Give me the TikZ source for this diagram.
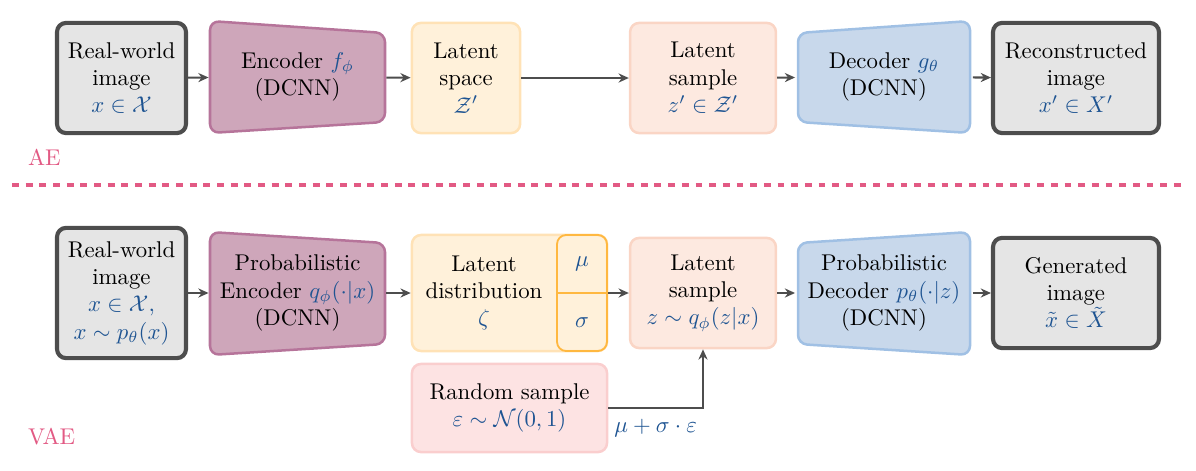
\documentclass[tikz,border=0pt]{standalone}
\usepackage{amsmath,amssymb}
\usepackage{tikz}
\usetikzlibrary{arrows.meta,positioning}
\definecolor{mathblue}{RGB}{30,84,146}
\definecolor{edgegray}{RGB}{77,77,77}
\definecolor{imgfill}{RGB}{229,229,229}
\definecolor{encfill}{RGB}{206,166,186}
\definecolor{encedge}{RGB}{182,116,154}
\definecolor{decfill}{RGB}{200,216,235}
\definecolor{decedge}{RGB}{160,192,228}
\definecolor{latfill}{RGB}{255,241,218}
\definecolor{latedge}{RGB}{255,226,182}
\definecolor{msedge}{RGB}{255,184,64}
\definecolor{sampfill}{RGB}{253,233,224}
\definecolor{sampedge}{RGB}{250,213,197}
\definecolor{randfill}{RGB}{253,227,227}
\definecolor{randedge}{RGB}{250,206,206}
\definecolor{tagpink}{RGB}{226,90,132}
\newcommand{\blu}[1]{\textcolor{mathblue}{$#1$}}

\tikzset{
  imgbox/.style={draw=edgegray,fill=imgfill,line width=1.8pt,rounded corners=4pt,
    align=center,inner sep=0pt},
  latbox/.style={draw=latedge,fill=latfill,line width=1.1pt,rounded corners=4pt,
    align=center,inner sep=0pt},
  sampbox/.style={draw=sampedge,fill=sampfill,line width=1.1pt,rounded corners=4pt,
    align=center,inner sep=0pt},
  randbox/.style={draw=randedge,fill=randfill,line width=1.1pt,rounded corners=4pt,
    align=center,inner sep=0pt},
  msbox/.style={draw=msedge,line width=0.8pt,rounded corners=4pt,inner sep=0pt},
  encshape/.style={draw=encedge,fill=encfill,line width=1.1pt,rounded corners=4pt},
  decshape/.style={draw=decedge,fill=decfill,line width=1.1pt,rounded corners=4pt},
  netlabel/.style={align=center,inner sep=0pt,minimum width=2.73cm,minimum height=1.3cm},
  flow/.style={->,line width=0.9pt,draw=edgegray},
  tag/.style={text=tagpink,anchor=west}
}

\begin{document}
\begin{tikzpicture}[x=0.01543cm,y=-0.01543cm,>={Stealth[length=4.5pt,width=4pt]}]
  \useasboundingbox (0,0) rectangle (1196,471);

  % AE
  \node[imgbox,minimum width=1.99cm,minimum height=1.70cm] (real1) at (121.5,78)
    {Real-world\\image\\\blu{x\in\mathcal{X}}};
  \draw[encshape] (210,21) -- (385,33) -- (385,122) -- (210,133) -- cycle;
  \node[netlabel] (enc1) at (297.5,77) {Encoder \blu{f_\phi}\\(DCNN)};
  \node[latbox,minimum width=1.67cm,minimum height=1.70cm] (lat1) at (466,78)
    {Latent\\space\\\blu{\mathcal{Z}'}};
  \node[sampbox,minimum width=2.25cm,minimum height=1.70cm] (samp1) at (703,78)
    {Latent\\sample\\\blu{z'\in\mathcal{Z}'}};
  \draw[decshape] (798,33) -- (970,21) -- (970,133) -- (798,122) -- cycle;
  \node[netlabel] (dec1) at (884,77) {Decoder \blu{g_\theta}\\(DCNN)};
  \node[imgbox,minimum width=2.56cm,minimum height=1.70cm] (rec1) at (1076,78)
    {Reconstructed\\image\\\blu{x'\in X'}};

  \draw[flow] (real1) -- (enc1);
  \draw[flow] (enc1) -- (lat1);
  \draw[flow] (lat1) -- (samp1);
  \draw[flow] (samp1) -- (dec1);
  \draw[flow] (dec1) -- (rec1);

  \node[tag] (ae) at (20,157) {AE};
  \draw[tagpink,line width=1.8pt,dash pattern=on 3pt off 3pt] (12,185) -- (1186,185);

  % VAE
  \node[imgbox,minimum width=1.99cm,minimum height=2.01cm] (real2) at (121.5,293)
    {Real-world\\image\\\blu{x\in\mathcal{X},}\\\blu{x\sim p_\theta(x)}};
  \draw[encshape] (210,232) -- (385,243) -- (385,344) -- (210,355) -- cycle;
  \node[netlabel] (enc2) at (297.5,293) {Probabilistic\\Encoder \blu{q_\phi(\cdot|x)}\\(DCNN)};
  \node[latbox,minimum width=3.01cm,minimum height=1.79cm] (dist) at (509.5,293) {};
  \node[align=center] (distxt) at (484,293) {Latent\\distribution\\\blu{\zeta}};
  \node[msbox,minimum width=0.77cm,minimum height=1.79cm] (ms) at (582,293) {};
  \draw[msedge,line width=0.8pt] (ms.west) -- (ms.east);
  \node (mu) at (582,264) {\blu{\mu}};
  \node (sig) at (582,323) {\blu{\sigma}};
  \node[sampbox,minimum width=2.25cm,minimum height=1.70cm] (samp2) at (703,293)
    {Latent\\sample\\\blu{z\sim q_\phi(z|x)}};
  \node[randbox,minimum width=3.01cm,minimum height=1.36cm] (rand) at (509.5,408)
    {Random sample\\\blu{\varepsilon\sim\mathcal{N}(0,1)}};
  \draw[decshape] (798,243) -- (970,232) -- (970,355) -- (798,344) -- cycle;
  \node[netlabel] (dec2) at (884,293) {Probabilistic\\Decoder \blu{p_\theta(\cdot|z)}\\(DCNN)};
  \node[imgbox,minimum width=2.56cm,minimum height=1.70cm] (gen) at (1076,293)
    {Generated\\image\\\blu{\tilde{x}\in\tilde{X}}};

  \draw[flow] (real2) -- (enc2);
  \draw[flow] (enc2) -- (dist);
  \draw[flow] (ms) -- (samp2);
  \draw[flow] (samp2) -- (dec2);
  \draw[flow] (dec2) -- (gen);
  \draw[flow] (rand.east) -| (samp2.south)
    node[pos=0.25,below=1pt] {\blu{\mu+\sigma\cdot\varepsilon}};

  \node[tag] (vae) at (20,437) {VAE};
\end{tikzpicture}
\end{document}
